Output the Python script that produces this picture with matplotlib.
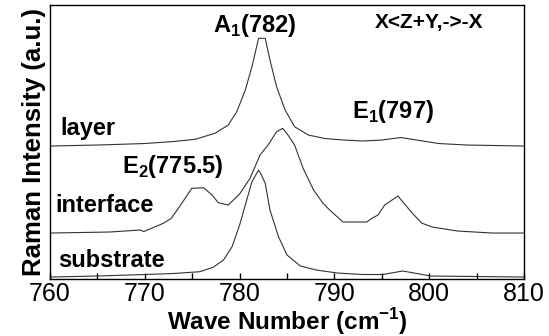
import matplotlib
matplotlib.use('Agg')
import matplotlib.pyplot as plt

plt.rcParams['font.family'] = ['Liberation Sans', 'DejaVu Sans']
plt.rcParams['mathtext.fontset'] = 'custom'
plt.rcParams['mathtext.rm'] = 'Liberation Sans:bold'
plt.rcParams['mathtext.bf'] = 'Liberation Sans:bold'

# Spectra (wave number, intensity in a.u. with offsets)
layer_x = [760, 765, 770, 773, 775.3, 777.4, 778.8, 779.7, 780.6, 781.3, 782.0,
           782.7, 783.2, 783.9, 784.8, 785.8, 787.25, 789, 791, 793, 795, 797,
           799, 801, 804, 810]
layer_y = [133, 134, 135.5, 137.5, 139.7, 145.7, 154, 167.3, 189, 212.3, 240.7,
           240.7, 219, 192.3, 169, 152.3, 144, 140.5, 139, 138, 139, 141.5,
           138.5, 135.5, 134, 133]

interface_x = [760, 766.3, 769.5, 769.9, 771.95, 772.8, 773.9, 774.95, 776.2, 777.1,
               777.75, 778.8, 780.0, 781.1, 782.15, 783.0, 783.9, 784.55, 785.1, 785.8,
               786.7, 787.8, 788.8, 789.5, 790.9, 793.4, 794.0, 794.6, 795.3, 796.7,
               798.2, 799.2, 800.3, 803.0, 806.6, 810]
interface_y = [46, 47, 49, 47.5, 55.7, 60.7, 75.7, 90.7, 91.3, 84,
               76.3, 74, 85, 100.7, 124, 134, 147.3, 150.7, 144, 134,
               110.7, 89, 75.7, 69, 57, 57, 61, 64, 74, 83,
               66, 56, 52, 48, 46, 46]

substrate_x = [760, 765, 770, 773, 775.8, 777.2, 778.3, 779.2, 780.0, 780.75,
               781.3, 782.0, 782.3, 782.7, 783.2, 784.1, 785.0, 786.4, 788.1, 790.3,
               793, 795.1, 797.2, 799, 800.1, 805, 810]
substrate_y = [2, 3, 4.5, 5.5, 7.3, 11.7, 19, 32.3, 54, 79,
               97.3, 109, 104, 95.7, 69, 42.3, 24, 13, 9, 6,
               4.5, 4.5, 8, 5, 3, 2.5, 2]

fig = plt.figure(figsize=(5.49, 3.36), dpi=100)
ax = fig.add_axes([0.0911, 0.1696, 0.8634, 0.8154])

for xs, ys in [(layer_x, layer_y), (interface_x, interface_y), (substrate_x, substrate_y)]:
    ax.plot(xs, ys, color='#333333', lw=0.8)

ax.set_xlim(760, 810)
ax.set_ylim(0, 274)
ax.set_xticks([760, 770, 780, 790, 800, 810])
ax.set_xticks([765, 775, 785, 795, 805], minor=True)
ax.tick_params(axis='x', which='both', direction='in', length=4, width=1, labelsize=18, pad=2)
ax.set_yticks([])
for s in ax.spines.values():
    s.set_linewidth(1)

ax.set_xlabel('Wave Number (cm$^{-1}$)', fontsize=17.5, fontweight='bold', labelpad=0)
ax.set_ylabel('Raman Intensity (a.u.)', fontsize=18.5, fontweight='bold', labelpad=3)

lbl = dict(fontsize=17, fontweight='bold', va='baseline', ha='left')
ax.text(761.05, 144, 'layer', **lbl)
ax.text(760.53, 67, 'interface', **lbl)
ax.text(760.84, 12, 'substrate', **lbl)
ax.text(777.2, 247, r'A$_1$(782)', **lbl)
ax.text(791.9, 161, r'E$_1$(797)', **lbl)
ax.text(767.6, 106, r'E$_2$(775.5)', **lbl)
ax.text(794.3, 251, 'X<Z+Y,->-X', fontsize=15, fontweight='bold', va='baseline', ha='left')

fig.savefig('out.png', dpi=100)
